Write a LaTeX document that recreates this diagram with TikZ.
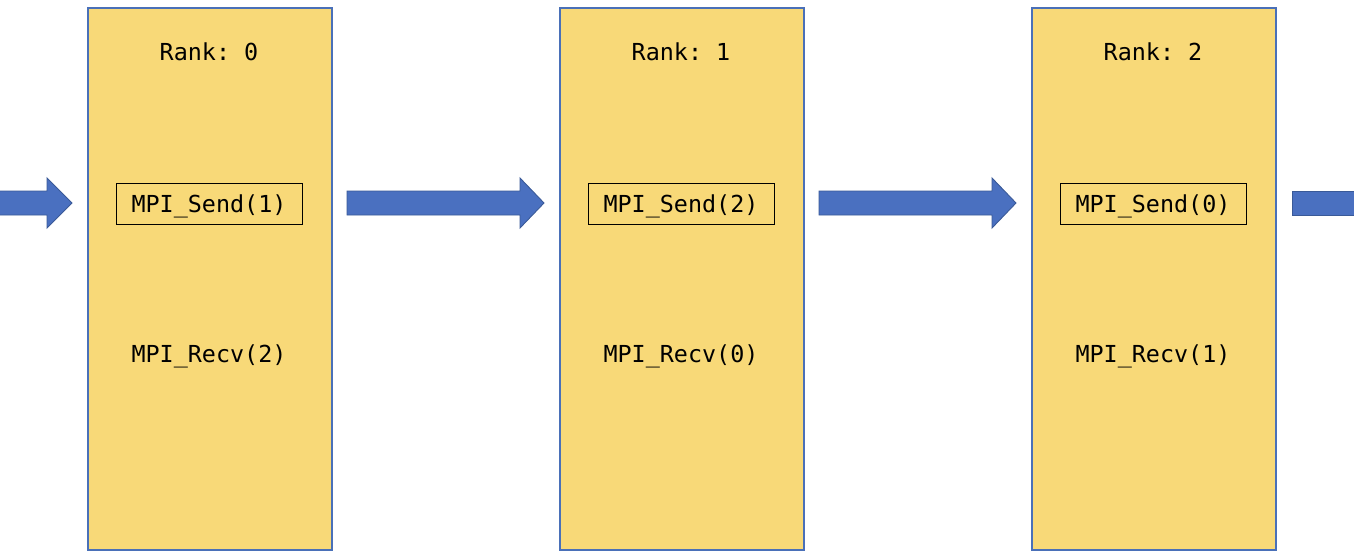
\documentclass[tikz,border=0pt]{standalone}
\usepackage{fontspec}
\setmonofont{DejaVu Sans Mono}
\definecolor{boxfill}{HTML}{F8D978}
\definecolor{boxline}{HTML}{4A70B8}
\definecolor{arrfill}{HTML}{4A70C0}
\definecolor{arrline}{HTML}{3A5A98}
\tikzset{
  rankbox/.style={draw=boxline, fill=boxfill, line width=1.6pt, minimum width=244pt, minimum height=542pt, inner sep=0pt, anchor=north west},
  lbl/.style={font=\fontsize{23.4pt}{26pt}\selectfont\ttfamily, inner sep=0pt, anchor=base},
  sendbox/.style={draw=black, line width=1pt, minimum width=186pt, text height=29pt, text depth=12pt, inner sep=0pt, anchor=base, font=\fontsize{23.4pt}{26pt}\selectfont\ttfamily},
  blockarrow/.style={fill=arrfill, draw=arrline, line width=0.9pt, line join=miter}
}
\begin{document}
\begin{tikzpicture}[x=1pt,y=-1pt]
\useasboundingbox (0,0) rectangle (1354,558);
\clip (0,0) rectangle (1354,558);
\fill[white] (0,0) rectangle (1354,558);
% rank boxes
\foreach \i/\s/\r in {0/1/2, 1/2/0, 2/0/1}{
  \node[rankbox] (box\i) at ({87+472*\i},7) {};
  \node[lbl] (rank\i) at ({209+472*\i},60) {Rank: \i};
  \node[sendbox] (send\i) at ({209+472*\i},212) {MPI\_Send(\s)};
  \node[lbl] (recv\i) at ({209+472*\i},362) {MPI\_Recv(\r)};
}
% arrows
\draw[blockarrow] (0,191) -- (47,191) -- (47,178) -- (72,203) -- (47,228) -- (47,215) -- (0,215);
\draw[blockarrow] (347,191) -- (520,191) -- (520,178) -- (544,203) -- (520,228) -- (520,215) -- (347,215) -- cycle;
\draw[blockarrow] (819,191) -- (992,191) -- (992,178) -- (1016,203) -- (992,228) -- (992,215) -- (819,215) -- cycle;
\draw[blockarrow] (1360,191) -- (1292,191) -- (1292,215) -- (1360,215);
\end{tikzpicture}
\end{document}
